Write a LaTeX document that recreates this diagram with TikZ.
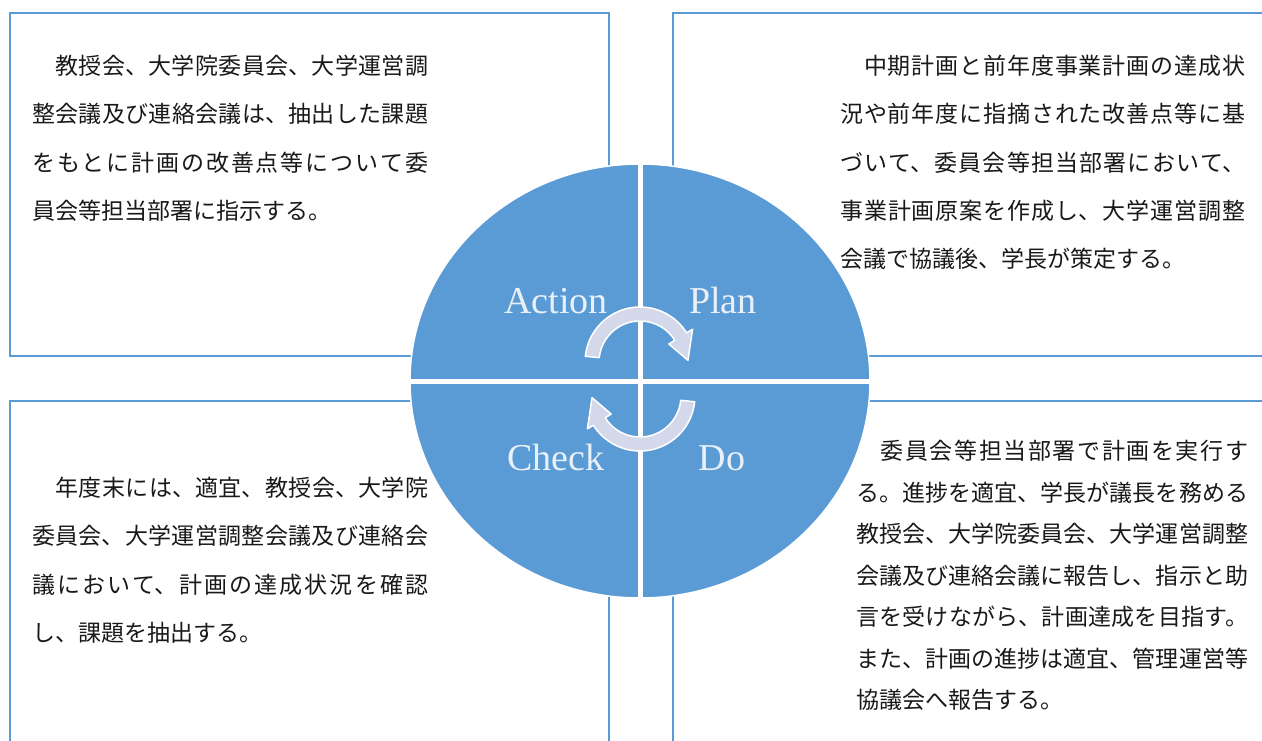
\documentclass[tikz,border=0pt]{standalone}
\usepackage{fontspec}
\setmainfont{Liberation Serif}
\newfontfamily\jpfont{Noto Sans CJK JP}
\usetikzlibrary{shapes.geometric}
\XeTeXlinebreaklocale "ja"
\XeTeXlinebreakskip=0pt plus 8pt
\definecolor{pdcablue}{HTML}{5B9BD5}
\definecolor{turnfill}{HTML}{D3D9EA}
\definecolor{labelwhite}{HTML}{EAF0F8}

\begin{document}
\begin{tikzpicture}[x=1pt,y=1pt]
\tikzstyle{frame}=[draw=pdcablue,line width=2.5pt]
\tikzstyle{memo}=[anchor=north west,inner sep=0pt,align=justify,text=black!90,
font=\jpfont\fontsize{23}{48.3}\selectfont]
\tikzstyle{quadlabel}=[anchor=base,inner sep=0pt,text=labelwhite,font=\fontsize{38}{38}\selectfont]
\tikzstyle{turn}=[fill=turnfill,draw=white,line width=1.5pt,line join=round]

\clip (0,0) rectangle (1262,-740);

% the four boxes
\draw[frame] (10,-13) rectangle (609,-356);
\draw[frame] (673,-13) rectangle (1300,-356);
\draw[frame] (10,-401) rectangle (609,-800);
\draw[frame] (673,-401) rectangle (1300,-800);

% cycle
\node[ellipse,fill=pdcablue,draw=white,line width=1.5pt,inner sep=0pt,
minimum width=460pt,minimum height=434pt] (pdca) at (640,-381) {};
\draw[white,line width=5pt] (pdca.north) -- (pdca.south);
\draw[white,line width=5pt] (pdca.west) -- (pdca.east);

\draw[turn,shift={(640,-362)}] (174:55pt) arc[start angle=174,end angle=32,radius=55pt]
-- (32:62pt) -- (2:48pt) -- (32:34pt) -- (32:41pt)
arc[start angle=32,end angle=174,radius=41pt] -- cycle;
\draw[turn,rotate around={180:(640,-379)},shift={(640,-362)}] (174:55pt) arc[start angle=174,end angle=32,radius=55pt]
-- (32:62pt) -- (2:48pt) -- (32:34pt) -- (32:41pt)
arc[start angle=32,end angle=174,radius=41pt] -- cycle;

\node[quadlabel] (act) at (556,-313) {Action};
\node[quadlabel] (plan) at (723,-313) {Plan};
\node[quadlabel] (chk) at (556,-470) {Check};
\node[quadlabel] (do) at (722,-470) {Do};

% texts
\node[memo,text width=396pt] (actmemo) at (32,-55) {
　教授会、大学院委員会、大学運営調\linebreak
整会議及び連絡会議は、抽出した課題\linebreak
をもとに計画の改善点等について委\linebreak
員会等担当部署に指示する。};

\node[memo,text width=405pt] (planmemo) at (840,-55) {
　中期計画と前年度事業計画の達成状\linebreak
況や前年度に指摘された改善点等に基\linebreak
づいて、委員会等担当部署において、\linebreak
事業計画原案を作成し、大学運営調整\linebreak
会議で協議後、学長が策定する。};

\node[memo,text width=396pt] (chkmemo) at (32,-477) {
　年度末には、適宜、教授会、大学院\linebreak
委員会、大学運営調整会議及び連絡会\linebreak
議において、計画の達成状況を確認\linebreak
し、課題を抽出する。};

\node[memo,text width=392pt,font=\jpfont\fontsize{23}{41.5}\selectfont] (domemo) at (856,-440) {
　委員会等担当部署で計画を実行す\linebreak
る。進捗を適宜、学長が議長を務める\linebreak
教授会、大学院委員会、大学運営調整\linebreak
会議及び連絡会議に報告し、指示と助\linebreak
言を受けながら、計画達成を目指す。\linebreak
また、計画の進捗は適宜、管理運営等\linebreak
協議会へ報告する。};
\end{tikzpicture}
\end{document}
